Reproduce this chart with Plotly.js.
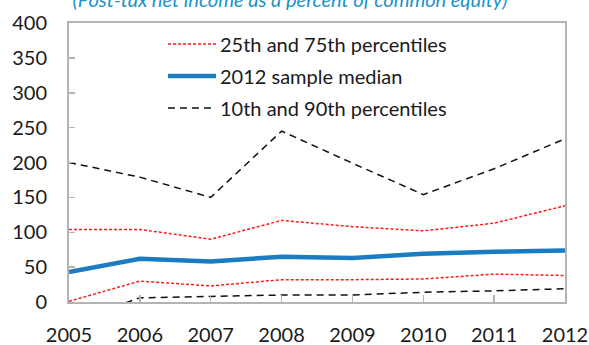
<!DOCTYPE html>
<html>
<head>
<meta charset="utf-8">
<script src="https://cdn.plot.ly/plotly-3.0.1.min.js"></script>
<style>
  html, body { margin: 0; padding: 0; background: #ffffff; }
  #chart { width: 589px; height: 345px; }
</style>
</head>
<body>
<div id="chart"></div>
<script>
// Return on equity, percentiles by year
const years = [2005, 2006, 2007, 2008, 2009, 2010, 2011, 2012];
const p90 = [200, 179, 150, 245, 199, 154, 191, 234];
const p75 = [104, 104, 90, 117, 108, 102, 113, 138];
const median = [43, 62, 58, 65, 63, 69, 72, 74];
const p25 = [1, 30, 23, 32, 32, 33, 40, 38];
const p10 = [-30, 6, 8, 10, 10, 14, 16, 19];

const seriesNames = ['25th and 75th percentiles', '2012 sample median', '10th and 90th percentiles'];
const titleText = '(Post-tax net income as a percent of common equity)';

const FONT = 'Lato, "Open Sans", sans-serif';
const RED = '#ff1a1a';
const BLUE = '#1c7cc2';
const BLACK = '#111111';
const FRAME = '#b4b4b4';

// plot area in pixels
const L = 69, R = 565, T = 23, B = 302;
const px = x => (x - L) / (R - L);
const py = y => (B - y) / (B - T);

const redLine = { color: RED, width: 1.5, dash: '3px,2px' };
const blueLine = { color: BLUE, width: 4.5 };
const blackLine = { color: BLACK, width: 1.5, dash: '7px,5px' };

const traces = [
  { x: years, y: p90, name: seriesNames[2], mode: 'lines', line: blackLine, showlegend: false },
  { x: years, y: p10, name: seriesNames[2], mode: 'lines', line: blackLine, showlegend: false },
  { x: years, y: p75, name: seriesNames[0], mode: 'lines', line: redLine, showlegend: false },
  { x: years, y: p25, name: seriesNames[0], mode: 'lines', line: redLine, showlegend: false },
  { x: years, y: median, name: seriesNames[1], mode: 'lines', line: blueLine, showlegend: false }
];

// hand-built key: line swatch + label per row
const keyRows = [
  { y: 44, line: redLine, label: seriesNames[0] },
  { y: 76, line: blueLine, label: seriesNames[1] },
  { y: 108, line: blackLine, label: seriesNames[2] }
];
const shapes = keyRows.map(r => ({
  type: 'line', xref: 'paper', yref: 'paper',
  x0: px(168), x1: px(216), y0: py(r.y), y1: py(r.y),
  line: r.line
}));
const annotations = keyRows.map(r => ({
  xref: 'paper', yref: 'paper', x: px(218), y: py(r.y),
  xanchor: 'left', yanchor: 'middle', showarrow: false,
  text: r.label, font: { family: FONT, size: 20, color: '#1a1a1a' }
}));

const layout = {
  width: 589, height: 345,
  margin: { l: L, r: 589 - R, t: T, b: 345 - B, pad: 0 },
  paper_bgcolor: '#ffffff', plot_bgcolor: '#ffffff',
  showlegend: false,
  title: {
    text: titleText,
    font: { family: FONT, size: 20, color: '#2093c9', style: 'italic' },
    xref: 'container', x: 290 / 589, xanchor: 'center',
    yref: 'container', y: 1, yanchor: 'middle'
  },
  xaxis: {
    range: [2005, 2012], tickvals: years, ticktext: years.map(String),
    ticks: 'inside', ticklen: 7, tickwidth: 1.5, tickcolor: FRAME,
    showline: true, linecolor: FRAME, linewidth: 2, mirror: true,
    showgrid: false, zeroline: false,
    ticklabelstandoff: 14,
    tickfont: { family: FONT, size: 20, color: '#1a1a1a' }
  },
  yaxis: {
    range: [0, 400], dtick: 50,
    ticks: 'inside', ticklen: 6, tickwidth: 1.5, tickcolor: FRAME,
    showline: true, linecolor: FRAME, linewidth: 2, mirror: true,
    showgrid: false, zeroline: false,
    ticklabelstandoff: 16,
    tickfont: { family: FONT, size: 20, color: '#1a1a1a' }
  },
  shapes: shapes,
  annotations: annotations
};

Plotly.newPlot('chart', traces, layout, { staticPlot: true, displayModeBar: false });
</script>
</body>
</html>
